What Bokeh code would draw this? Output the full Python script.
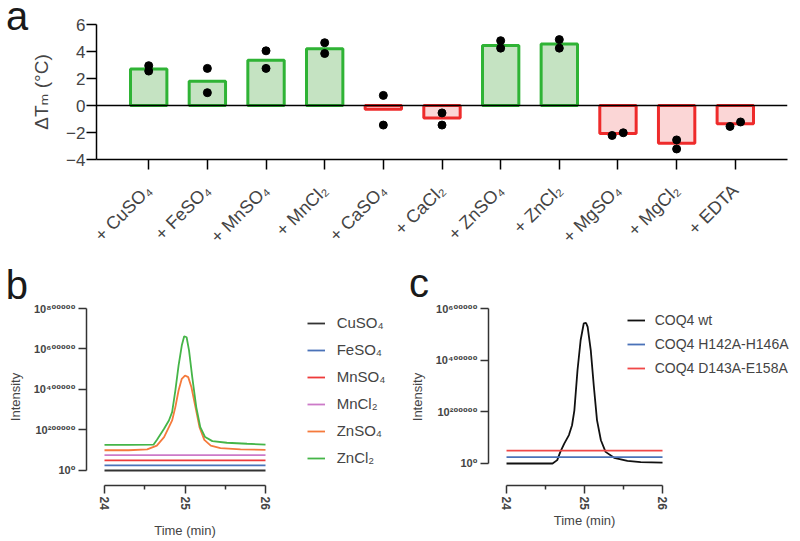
import math
from bokeh.plotting import figure
from bokeh.models import (ColumnDataSource, FactorRange, Range1d, FixedTicker, Span,
                          Legend, LegendItem, LinearAxis, Title, Div)
from bokeh.layouts import column, row
from bokeh.embed import file_html
from bokeh.resources import INLINE

# ---------------- Panel a data ----------------
treatments = ["+ CuSO₄", "+ FeSO₄", "+ MnSO₄", "+ MnCl₂", "+ CaSO₄", "+ CaCl₂",
              "+ ZnSO₄", "+ ZnCl₂", "+ MgSO₄", "+ MgCl₂", "+ EDTA"]
dtm_mean = [2.7, 1.8, 3.35, 4.2, -0.28, -0.92, 4.45, 4.55, -2.07, -2.8, -1.35]
dtm_rep1 = [2.95, 2.75, 4.05, 4.65, 0.75, -0.55, 4.8, 4.88, -2.22, -2.55, -1.55]
dtm_rep2 = [2.55, 0.95, 2.75, 3.85, -1.45, -1.45, 4.25, 4.25, -2.02, -3.22, -1.22]
rep1_jitter = [0, 0, 0, 0, 0, 0, 0, 0, -0.1, 0, -0.09]
rep2_jitter = [0, 0, 0, 0, 0, 0, 0, 0, 0.09, 0, 0.09]
a_yticks = [-4, -2, 0, 2, 4, 6]
a_ylabel = "ΔTₘ (°C)"

# ---------------- Panel b data ----------------
b_names = ["CuSO₄", "FeSO₄", "MnSO₄", "MnCl₂", "ZnSO₄", "ZnCl₂"]
b_colors = ["#333333", "#4a72b8", "#ee3b3b", "#cc7ac8", "#f57a3c", "#45b548"]
flat_time = [24.0, 26.0]
cuso4_int = [0, 0]
feso4_int = [25000, 25000]
mnso4_int = [50000, 50000]
mncl2_int = [76000, 76000]
znso4_time = [24.0, 24.3, 24.53, 24.65, 24.74, 24.80, 24.84, 24.88, 24.92, 24.96, 25.0,
              25.04, 25.08, 25.13, 25.18, 25.24, 25.32, 25.44, 25.69, 26.0]
znso4_int = [100000, 100000, 104000, 123000, 165000, 214000, 247000, 313000, 395000, 453000,
             469000, 461000, 411000, 313000, 214000, 151000, 123000, 110000, 104000, 102000]
zncl2_time = [24.0, 24.3, 24.61, 24.65, 24.74, 24.80, 24.84, 24.88, 24.92, 24.96, 24.99,
              25.02, 25.05, 25.09, 25.14, 25.19, 25.25, 25.34, 25.52, 25.77, 26.0]
zncl2_int = [127000, 127000, 128000, 151000, 206000, 247000, 288000, 395000, 518000, 617000,
             663000, 658000, 593000, 461000, 313000, 214000, 165000, 145000, 137000, 132000, 128000]
b_yticks = [0, 200000, 400000, 600000, 800000]
b_ylabels = ["10⁰", "10²⁰⁰⁰⁰⁰", "10⁴⁰⁰⁰⁰⁰", "10⁶⁰⁰⁰⁰⁰", "10⁸⁰⁰⁰⁰⁰"]

# ---------------- Panel c data ----------------
c_names = ["COQ4 wt", "COQ4 H142A-H146A", "COQ4 D143A-E158A"]
c_colors = ["#111111", "#4a72b8", "#f04848"]
wt_time = [24.0, 24.3, 24.59, 24.65, 24.69, 24.74, 24.80, 24.84, 24.87, 24.91, 24.95, 24.99,
           25.02, 25.04, 25.08, 25.12, 25.16, 25.21, 25.27, 25.38, 25.55, 25.72, 26.0]
wt_int = [0, 0, 0, 13000, 45000, 77000, 110000, 148000, 206000, 361000, 477000, 542000,
          544000, 529000, 439000, 297000, 168000, 90000, 45000, 22000, 10000, 5000, 3000]
h142_int = [25000, 25000]
d143_int = [50000, 50000]
c_yticks = [0, 200000, 400000, 600000]
c_ylabels = ["10⁰", "10²⁰⁰⁰⁰⁰", "10⁴⁰⁰⁰⁰⁰", "10⁶⁰⁰⁰⁰⁰"]
time_ticks = [24, 25, 26]
time_minor = [24.5, 25.5]
time_label = "Time (min)"
intensity_label = "Intensity"

FONT = "Liberation Sans"
FONT_FB = "Liberation Sans, DejaVu Sans"
LETTER_COLOR = "#1a1a1a"


def label_axis(tick, text, size, standoff, font=FONT):
    """A bare axis whose single tick label serves as a positioned text."""
    return LinearAxis(ticker=FixedTicker(ticks=[tick]), major_label_overrides={tick: text},
                      axis_line_color=None, major_tick_line_color=None,
                      minor_tick_line_color=None, major_tick_out=0, major_tick_in=0,
                      major_label_standoff=standoff, major_label_text_font=font,
                      major_label_text_font_size=size)


# ================= Panel a =================
# narrow strip holding the panel letter
fa = Div(text=('<div style="font-family: \'Liberation Sans\'; font-size: 40px; '
               'line-height: 32px; color: #1a1a1a; margin: 0 0 0 6px;">a</div>'),
         width=28, height=256, margin=0)

pa = figure(width=772, height=256,
            x_range=FactorRange(factors=treatments, range_padding=0.39,
                                range_padding_units="absolute"),
            y_range=Range1d(-4, 6), output_backend="svg", toolbar_location=None,
            min_border_left=62, min_border_right=13, min_border_top=24, min_border_bottom=93)
pa.grid.visible = False
pa.outline_line_color = None

fills = ["#c5e3c2" if m > 0 else "#fbd6d6" for m in dtm_mean]
lines = ["#2fb335" if m > 0 else "#ee2b2b" for m in dtm_mean]
bar_src = ColumnDataSource(dict(x=treatments, top=dtm_mean, fill=fills, line=lines))
pa.vbar(x="x", top="top", bottom=0, width=0.62, fill_color="fill", line_color="line",
        line_width=3, source=bar_src)
pa.add_layout(Span(location=0, dimension="width", line_color="black", line_width=1.5))

dot_x = [(t, j) for t, j in zip(treatments, rep1_jitter)] + \
        [(t, j) for t, j in zip(treatments, rep2_jitter)]
dot_y = dtm_rep1 + dtm_rep2
pa.scatter(x=dot_x, y=dot_y, size=8, color="black")

ya = pa.yaxis[0]
ya.ticker = FixedTicker(ticks=a_yticks)
ya.axis_label = a_ylabel
ya.axis_label_text_font = FONT_FB
ya.axis_label_text_font_style = "normal"
ya.axis_label_text_font_size = "19px"
ya.axis_label_standoff = 11
ya.major_label_text_font = FONT
ya.major_label_text_font_size = "17px"
ya.major_label_standoff = 1
ya.major_tick_out = 10
ya.major_tick_in = 0
ya.minor_tick_line_color = None
ya.axis_line_width = 1.5
ya.major_tick_line_width = 1.5

xa = pa.xaxis[0]
xa.major_label_orientation = math.pi / 4
xa.major_label_text_font = FONT
xa.major_label_text_font_size = "18px"
xa.major_tick_out = 10
xa.major_tick_in = 0
xa.major_label_standoff = 18
xa.axis_line_width = 1.5
xa.major_tick_line_width = 1.5


def style_chrom(p, yticks, ylabels, ybound, time_standoff):
    p.grid.visible = False
    p.outline_line_color = None
    yx = p.yaxis[0]
    yx.ticker = FixedTicker(ticks=yticks)
    yx.major_label_overrides = {t: l for t, l in zip(yticks, ylabels)}
    yx.bounds = (0, ybound)
    yx.axis_label = intensity_label
    yx.axis_label_text_font = FONT
    yx.axis_label_text_font_style = "normal"
    yx.axis_label_text_font_size = "13px"
    yx.axis_label_standoff = 8
    yx.major_label_text_font = FONT_FB
    yx.major_label_text_font_style = "bold"
    yx.major_label_text_font_size = "11px"
    yx.major_label_standoff = 3
    yx.major_tick_out = 8
    yx.major_tick_in = 0
    xx = p.xaxis[0]
    xx.ticker = FixedTicker(ticks=time_ticks, minor_ticks=time_minor)
    xx.bounds = (24, 26)
    xx.major_label_orientation = "vertical"
    xx.major_label_text_font = FONT
    xx.major_label_text_font_style = "bold"
    xx.major_label_text_font_size = "12px"
    xx.major_label_standoff = 3
    xx.major_tick_out = 8
    xx.major_tick_in = 0
    xx.minor_tick_out = 4
    xx.minor_tick_in = 0
    for ax in (xx, yx):
        ax.axis_line_color = "#333333"
        ax.axis_line_width = 1.5
        ax.major_tick_line_color = "#333333"
        ax.major_tick_line_width = 1.5
        ax.minor_tick_line_width = 1.5
    xx.minor_tick_line_color = "#333333"
    yx.minor_tick_line_color = None
    p.add_layout(label_axis(25, time_label, "13px", time_standoff), "below")


def letter_title(txt, offset, standoff):
    return Title(text=txt, align="left", offset=offset, standoff=standoff, vertical_align="top",
                 text_font=FONT, text_font_size="40px", text_font_style="normal",
                 text_color=LETTER_COLOR)


# ================= Panel b =================
# (frames in one row share their top and bottom edges)
pb = figure(width=400, height=285, x_range=Range1d(23.7764, 27.677),
            y_range=Range1d(-74100, 800000),
            output_backend="svg", toolbar_location=None,
            min_border_left=86, min_border_right=0, min_border_top=52, min_border_bottom=56)
style_chrom(pb, b_yticks, b_ylabels, 800000, 10)
b_series = [(flat_time, cuso4_int), (flat_time, feso4_int), (flat_time, mnso4_int),
            (flat_time, mncl2_int), (znso4_time, znso4_int), (zncl2_time, zncl2_int)]
b_items = []
for name, col, (tt, yy) in zip(b_names, b_colors, b_series):
    r = pb.line(tt, yy, line_color=col, line_width=1.8)
    b_items.append(LegendItem(label=name, renderers=[r]))
leg_b = Legend(items=b_items, location=(220.7, 17.3), padding=0, margin=0, spacing=7,
               glyph_width=18, glyph_height=20, label_height=20, label_standoff=12,
               label_text_font=FONT_FB, label_text_font_size="15px",
               border_line_color=None, background_fill_alpha=0)
pb.add_layout(leg_b)
pb.add_layout(letter_title("b", -80.7, 0), "above")

# ================= Panel c =================
pc = figure(width=400, height=285, x_range=Range1d(23.769, 27.769),
            y_range=Range1d(-85200, 600000),
            output_backend="svg", toolbar_location=None,
            min_border_left=88, min_border_right=0, min_border_top=52, min_border_bottom=56)
style_chrom(pc, c_yticks, c_ylabels, 600000, 0)
c_series = [(wt_time, wt_int), (flat_time, h142_int), (flat_time, d143_int)]
c_items = []
for name, col, (tt, yy) in zip(c_names, c_colors, c_series):
    r = pc.line(tt, yy, line_color=col, line_width=1.8)
    c_items.append(LegendItem(label=name, renderers=[r]))
leg_c = Legend(items=c_items, location=(138.7, 107), padding=0, margin=0, spacing=4,
               glyph_width=18, glyph_height=20, label_height=20, label_standoff=10,
               label_text_font=FONT, label_text_font_size="14px",
               border_line_color=None, background_fill_alpha=0)
pc.add_layout(leg_c)
pc.add_layout(letter_title("c", -79.6, 4), "above")

layout = column(row(fa, pa), row(pb, pc))
open("out.html", "w").write(file_html(layout, INLINE))
